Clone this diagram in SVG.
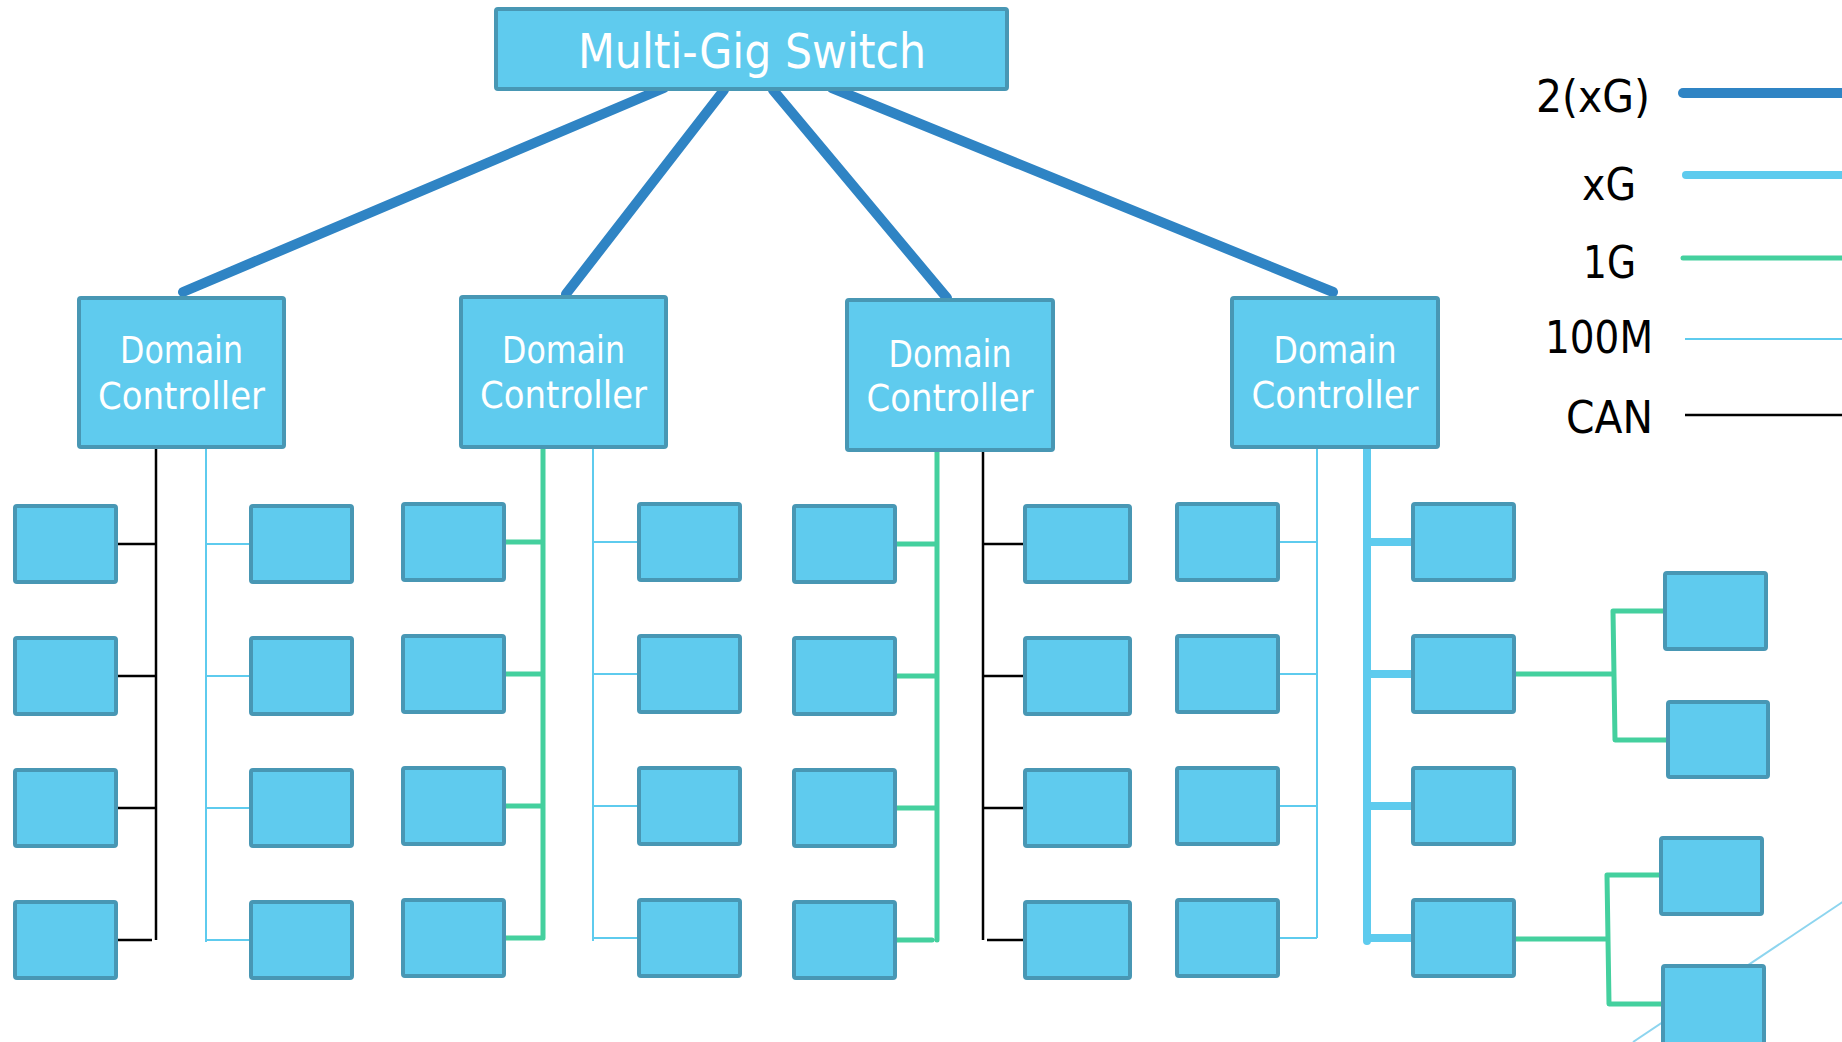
<svg xmlns="http://www.w3.org/2000/svg" width="1842" height="1042" viewBox="0 0 1842 1042">
<style>
.box{fill:#5fcbee;stroke:#4897b4;stroke-width:4}
.lbl{font-family:"DejaVu Sans","Liberation Sans",sans-serif;fill:#ffffff;text-anchor:middle}
.leg{font-family:"DejaVu Sans","Liberation Sans",sans-serif;fill:#000000;font-size:45px;text-anchor:end}
.x2{stroke:#2f84c4;stroke-width:10;stroke-linecap:round;fill:none}
.xg{stroke:#5ecbee;stroke-width:8;fill:none;stroke-linecap:round;stroke-linejoin:round}
.g1{stroke:#44d09e;stroke-width:5;fill:none;stroke-linecap:round;stroke-linejoin:round}
.m100{stroke:#5ecbee;stroke-width:2;fill:none}
.can{stroke:#000000;stroke-width:2.5;fill:none}
</style>
<rect width="1842" height="1042" fill="#ffffff"/>
<g id="connectors">
  <path class="x2" d="M664,88 L183,292"/>
  <path class="x2" d="M724,90 L566,294"/>
  <path class="x2" d="M773,90 L947,298"/>
  <path class="x2" d="M832,88 L1333,292"/>
  <!-- DC1 -->
  <path class="can" d="M156,449 V940 M117,544 H156 M117,676 H156 M117,808 H156 M117,940 H152"/>
  <path class="m100" d="M206,449 V942 M206,544 H251 M206,676 H251 M206,808 H251 M206,940 H251"/>
  <!-- DC2 -->
  <path class="g1" d="M543,449 V938 H505 M505,542 H543 M505,674 H543 M505,806 H543"/>
  <path class="m100" d="M593,449 V941 M593,542 H639 M593,674 H639 M593,806 H639 M593,938 H639"/>
  <!-- DC3 -->
  <path class="g1" d="M937,451 V940 M896,544 H937 M896,676 H937 M896,808 H937 M896,940 H932"/>
  <path class="can" d="M983,451 V940 M983,544 H1025 M983,676 H1025 M983,808 H1025 M987,940 H1025"/>
  <!-- DC4 -->
  <path class="m100" d="M1317,449 V938 M1278,542 H1317 M1278,674 H1317 M1278,806 H1317 M1278,938 H1317"/>
  <path class="xg" d="M1367,449 V941 M1367,542 H1413 M1367,674 H1413 M1367,806 H1413 M1367,938 H1413"/>
  <!-- extra 1G -->
  <path class="g1" d="M1514,674 H1614 M1665,611 H1613 L1615,740 H1668"/>
  <path class="g1" d="M1514,939 H1608 M1661,875 H1607 L1609,1004 H1663"/>
  <path d="M1850,897 L1633,1042" stroke="#8dd5ef" stroke-width="2" fill="none"/>
  <!-- legend lines -->
  <path class="x2" d="M1683,93 H1860" stroke-width="11"/>
  <path class="xg" d="M1686,175 H1860"/>
  <path class="g1" d="M1683,258 H1860" stroke-width="7"/>
  <path class="m100" d="M1685,339 H1860"/>
  <path class="can" d="M1685,415 H1860"/>
</g>
<g id="legend">
  <text class="leg" x="1650" y="112" textLength="114" lengthAdjust="spacingAndGlyphs">2(xG)</text>
  <text class="leg" x="1636" y="200" textLength="54" lengthAdjust="spacingAndGlyphs">xG</text>
  <text class="leg" x="1636" y="278" textLength="53" lengthAdjust="spacingAndGlyphs">1G</text>
  <text class="leg" x="1653" y="353" textLength="108" lengthAdjust="spacingAndGlyphs">100M</text>
  <text class="leg" x="1653" y="433" textLength="87" lengthAdjust="spacingAndGlyphs">CAN</text>
</g>
<g id="switch">
  <rect class="box" x="496" y="9" width="511" height="80" rx="2"/>
  <text class="lbl" x="752" y="68" font-size="48" textLength="348" lengthAdjust="spacingAndGlyphs">Multi-Gig Switch</text>
</g>
<g id="dc1">
  <rect class="box" x="79" y="298" width="205" height="149" rx="2"/>
  <text class="lbl" x="181.5" y="363" font-size="37" textLength="123" lengthAdjust="spacingAndGlyphs">Domain</text>
  <text class="lbl" x="181.5" y="409" font-size="37" textLength="167" lengthAdjust="spacingAndGlyphs">Controller</text>
</g>
<g id="dc2">
  <rect class="box" x="461" y="297" width="205" height="150" rx="2"/>
  <text class="lbl" x="563.5" y="363" font-size="37" textLength="123" lengthAdjust="spacingAndGlyphs">Domain</text>
  <text class="lbl" x="563.5" y="408" font-size="37" textLength="167" lengthAdjust="spacingAndGlyphs">Controller</text>
</g>
<g id="dc3">
  <rect class="box" x="847" y="300" width="206" height="150" rx="2"/>
  <text class="lbl" x="950" y="367" font-size="37" textLength="123" lengthAdjust="spacingAndGlyphs">Domain</text>
  <text class="lbl" x="950" y="411" font-size="37" textLength="167" lengthAdjust="spacingAndGlyphs">Controller</text>
</g>
<g id="dc4">
  <rect class="box" x="1232" y="298" width="206" height="149" rx="2"/>
  <text class="lbl" x="1335" y="363" font-size="37" textLength="123" lengthAdjust="spacingAndGlyphs">Domain</text>
  <text class="lbl" x="1335" y="408" font-size="37" textLength="167" lengthAdjust="spacingAndGlyphs">Controller</text>
</g>
<g id="colA">
  <rect id="a1" class="box" x="15" y="506" width="101" height="76" rx="2"/>
  <rect id="a2" class="box" x="15" y="638" width="101" height="76" rx="2"/>
  <rect id="a3" class="box" x="15" y="770" width="101" height="76" rx="2"/>
  <rect id="a4" class="box" x="15" y="902" width="101" height="76" rx="2"/>
</g>
<g id="colB">
  <rect id="b1" class="box" x="251" y="506" width="101" height="76" rx="2"/>
  <rect id="b2" class="box" x="251" y="638" width="101" height="76" rx="2"/>
  <rect id="b3" class="box" x="251" y="770" width="101" height="76" rx="2"/>
  <rect id="b4" class="box" x="251" y="902" width="101" height="76" rx="2"/>
</g>
<g id="colC">
  <rect id="c1" class="box" x="403" y="504" width="101" height="76" rx="2"/>
  <rect id="c2" class="box" x="403" y="636" width="101" height="76" rx="2"/>
  <rect id="c3" class="box" x="403" y="768" width="101" height="76" rx="2"/>
  <rect id="c4" class="box" x="403" y="900" width="101" height="76" rx="2"/>
</g>
<g id="colD">
  <rect id="d1" class="box" x="639" y="504" width="101" height="76" rx="2"/>
  <rect id="d2" class="box" x="639" y="636" width="101" height="76" rx="2"/>
  <rect id="d3" class="box" x="639" y="768" width="101" height="76" rx="2"/>
  <rect id="d4" class="box" x="639" y="900" width="101" height="76" rx="2"/>
</g>
<g id="colE">
  <rect id="e1" class="box" x="794" y="506" width="101" height="76" rx="2"/>
  <rect id="e2" class="box" x="794" y="638" width="101" height="76" rx="2"/>
  <rect id="e3" class="box" x="794" y="770" width="101" height="76" rx="2"/>
  <rect id="e4" class="box" x="794" y="902" width="101" height="76" rx="2"/>
</g>
<g id="colF">
  <rect id="f1" class="box" x="1025" y="506" width="105" height="76" rx="2"/>
  <rect id="f2" class="box" x="1025" y="638" width="105" height="76" rx="2"/>
  <rect id="f3" class="box" x="1025" y="770" width="105" height="76" rx="2"/>
  <rect id="f4" class="box" x="1025" y="902" width="105" height="76" rx="2"/>
</g>
<g id="colG">
  <rect id="g1" class="box" x="1177" y="504" width="101" height="76" rx="2"/>
  <rect id="g2" class="box" x="1177" y="636" width="101" height="76" rx="2"/>
  <rect id="g3" class="box" x="1177" y="768" width="101" height="76" rx="2"/>
  <rect id="g4" class="box" x="1177" y="900" width="101" height="76" rx="2"/>
</g>
<g id="colH">
  <rect id="h1" class="box" x="1413" y="504" width="101" height="76" rx="2"/>
  <rect id="h2" class="box" x="1413" y="636" width="101" height="76" rx="2"/>
  <rect id="h3" class="box" x="1413" y="768" width="101" height="76" rx="2"/>
  <rect id="h4" class="box" x="1413" y="900" width="101" height="76" rx="2"/>
</g>
<g id="colI">
  <rect id="i1" class="box" x="1665" y="573" width="101" height="76" rx="2"/>
  <rect id="i2" class="box" x="1668" y="702" width="100" height="75" rx="2"/>
  <rect id="i3" class="box" x="1661" y="838" width="101" height="76" rx="2"/>
  <rect id="i4" class="box" x="1663" y="966" width="101" height="80" rx="2"/>
</g>
</svg>
